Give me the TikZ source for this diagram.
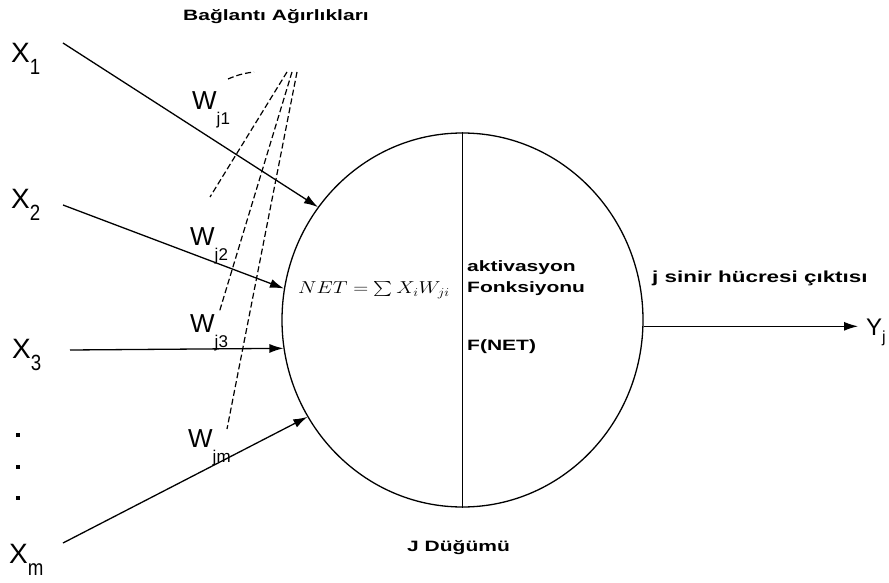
\documentclass[tikz,border=0pt]{standalone}
\usepackage{fontspec}
\setmainfont{Liberation Sans}
\usepackage{graphicx}
\usetikzlibrary{arrows.meta, positioning, calc, shapes.geometric}

\tikzset{
  conn/.style={-{Latex[length=14pt,width=9pt]}, line width=1.3pt},
  wline/.style={dash pattern=on 6pt off 3pt, line width=1.2pt},
  inlabel/.style={inner sep=0pt, anchor=base west},
  tagtext/.style={inner sep=0pt, font=\bfseries\fontsize{15}{18}\selectfont},
}
\newcommand{\wide}[1]{\scalebox{1.4}[1]{#1}}
\newcommand{\inname}[1]{{\fontsize{28}{30}\selectfont X}\raisebox{-12pt}{\scalebox{0.85}[1]{\fontsize{22}{24}\selectfont #1}}}
\newcommand{\wname}[1]{{\fontsize{26}{28}\selectfont W}\raisebox{-15pt}{\fontsize{17}{18}\selectfont j#1}}
\newcommand{\bigsum}{\mathop{\vcenter{\hbox{\scalebox{1.5}{$\sum$}}}}}

\begin{document}
\begin{tikzpicture}[x=1pt,y=-1pt]
  \useasboundingbox (0,0) rectangle (889,583);
  % the node J
  \node[draw, ellipse, line width=1.3pt, minimum width=361pt, minimum height=374pt, inner sep=0pt] (neuron) at (462.5,320) {};
  \draw[line width=1.2pt] (neuron.north) -- (neuron.south);
  \node (net) at (374,290) {\scalebox{1.2}[1]{\fontsize{17}{20}\selectfont $NET = \bigsum X_i W_{ji}$}};
  \node[tagtext, anchor=base west] (akt) at (467,271) {\wide{aktivasyon}};
  \node[tagtext, anchor=base west] (fonk) at (467,292) {\wide{Fonksiyonu}};
  \node[tagtext, anchor=base west] (fnet) at (467,350) {\wide{F(NET)}};
  \node[tagtext, anchor=base west] (node) at (407,551) {\wide{J Düğümü}};
  \node[tagtext] (title) at (276,17) {\wide{Bağlantı Ağırlıkları}};
  \node[tagtext, anchor=base west, font=\bfseries\fontsize{16}{18}\selectfont] (outtxt) at (652,282) {\wide{j sinir hücresi çıktısı}};

  % inputs
  \node[inlabel] (x1) at (11,63) {\inname{1}};
  \node[inlabel] (x2) at (11,208) {\inname{2}};
  \node[inlabel] (x3) at (12,358) {\inname{3}};
  \node[inlabel] (xm) at (9,563) {\inname{m}};
  \foreach \y in {435,467,498}
    \fill (16,\y-2) rectangle ++(4,4);
  \coordinate (s1) at (63,43);
  \coordinate (s2) at (63,205);
  \coordinate (s3) at (70,350);
  \coordinate (sm) at (63,543);
  \draw[conn] (s1) -- (neuron.142.2);
  \draw[conn] (s2) -- (neuron.170.7);
  \draw[conn] (s3) -- (neuron.189.3);
  \draw[conn] (sm) -- (neuron.212.2);

  % weights
  \node[inlabel] (w1) at (192,110) {\wname{1}};
  \node[inlabel] (w2) at (190,245) {\wname{2}};
  \node[inlabel] (w3) at (190,332) {\wname{3}};
  \node[inlabel] (wm) at (188,447) {\wname{m}};
  \coordinate (hub) at (292,72);
  \coordinate (e1) at (210,197);
  \coordinate (e2) at (219,313);
  \coordinate (e3) at (227,429);
  \draw[wline] ([xshift=-5pt]hub) -- (e1);
  \draw[wline] (hub) -- (e2);
  \draw[wline] ([xshift=5pt]hub) -- (e3);
  \draw[wline] (228,79) to[bend left=8] (254,72);

  % output
  \node[inlabel, font=\fontsize{24}{26}\selectfont] (yj) at (866,335) {Y\raisebox{-7pt}{\fontsize{16}{18}\selectfont j}};
  \draw[conn, shorten >=8pt] (neuron.-2.5) -- (neuron.-2.5 -| yj.west);
\end{tikzpicture}
\end{document}
